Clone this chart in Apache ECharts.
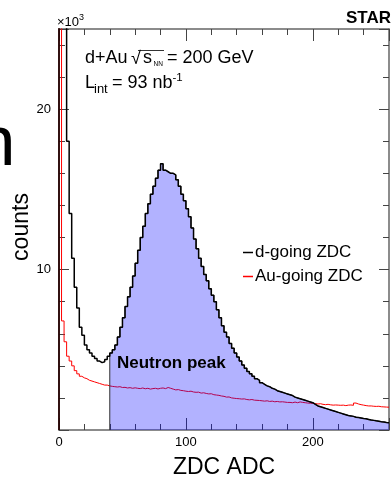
<!DOCTYPE html>
<html>
<head>
<meta charset="UTF-8">
<title>ZDC ADC</title>
<script src="https://cdn.jsdelivr.net/npm/echarts@6/dist/echarts.min.js"></script>
<style>
  * { margin: 0; padding: 0; }
  html, body { width: 392px; height: 478px; background: #fff; }
  #main { width: 392px; height: 478px; }
</style>
</head>
<body>
<div id="main"></div>
<script>
// histogram bins: width 2 ADC counts, starting at 0; values in units of 10^3 counts
var BIN = 2;
var dGoing = [
  60, 60, 40, 18.0, 13.5, 10.7, 8.9, 7.6, 6.4, 5.9,
  5.3, 5.0, 4.8, 4.6, 4.45, 4.3, 4.2, 4.25, 4.4, 4.6,
  4.8, 5.0, 5.3, 5.8, 6.4, 7.0, 7.7, 8.3, 8.9, 9.6,
  10.4, 11.2, 12.0, 12.7, 13.5, 14.1, 14.7, 15.2, 15.7, 16.2,
  16.6, 16.2, 16.1, 16.0, 16.0, 15.9, 15.6, 15.2, 14.7, 14.3,
  13.8, 13.3, 12.6, 11.9, 11.3, 10.7, 10.2, 9.7, 9.3, 8.8,
  8.4, 8.0, 7.5, 7.0, 6.5, 6.1, 5.8, 5.4, 5.1, 4.8,
  4.55, 4.3, 4.05, 3.85, 3.65, 3.5, 3.35, 3.2, 3.1, 2.95,
  2.85, 2.75, 2.7, 2.6, 2.55, 2.45, 2.4, 2.35, 2.3, 2.25,
  2.2, 2.15, 2.05, 2.0, 1.95, 1.9, 1.85, 1.8, 1.75, 1.7,
  1.6, 1.5, 1.45, 1.4, 1.35, 1.3, 1.25, 1.2, 1.15, 1.1,
  1.05, 1.0, 0.95, 0.9, 0.88, 0.85, 0.8, 0.78, 0.75, 0.72,
  0.7, 0.66, 0.62, 0.6, 0.57, 0.55, 0.52, 0.5, 0.47, 0.45
];
var auGoing = [
  60, 6.8, 5.5, 4.6, 4.3, 4.0, 3.7, 3.5, 3.35, 3.25,
  3.2, 3.1, 3.05, 3.0, 2.95, 2.9, 2.85, 2.8, 2.8, 2.75,
  2.72, 2.7, 2.68, 2.7, 2.65, 2.66, 2.62, 2.64, 2.6, 2.63,
  2.6, 2.58, 2.62, 2.57, 2.6, 2.55, 2.58, 2.6, 2.56, 2.6,
  2.62, 2.58, 2.65, 2.6, 2.55, 2.5, 2.52, 2.47, 2.45, 2.42,
  2.4, 2.42, 2.37, 2.35, 2.36, 2.3, 2.32, 2.28, 2.25, 2.26,
  2.2, 2.18, 2.16, 2.12, 2.1, 2.05, 2.06, 2.0, 1.98, 1.96,
  1.95, 1.93, 1.94, 1.9, 1.88, 1.9, 1.86, 1.85, 1.84, 1.82,
  1.8, 1.82, 1.78, 1.8, 1.76, 1.78, 1.75, 1.76, 1.74, 1.72,
  1.72, 1.7, 1.74, 1.7, 1.75, 1.72, 1.7, 1.68, 1.67, 1.66,
  1.65, 1.62, 1.64, 1.6, 1.58, 1.6, 1.57, 1.55, 1.56, 1.55,
  1.54, 1.55, 1.52, 1.55, 1.56, 1.54, 1.68, 1.62, 1.58, 1.55,
  1.52, 1.5, 1.5, 1.48, 1.47, 1.48, 1.45, 1.44, 1.43, 1.42
];
var peakStart = 40;       // neutron peak selection starts here
var xTickLabels = [0, 100, 200];
var yTickLabels = [10, 20];

var FONT = '"Liberation Sans", Arial, Helvetica, sans-serif';

// histogram -> step outline points
function steps(vals, from) {
  var pts = [[from, 0]];
  for (var i = 0; i < vals.length; i++) {
    var x0 = i * BIN;
    if (x0 < from) continue;
    pts.push([x0, vals[i]], [x0 + BIN, vals[i]]);
  }
  return pts;
}

// text placed by baseline
function T(x, base, s, fs, extra) {
  var st = { text: s, fontSize: fs, fontFamily: FONT, fill: '#000', verticalAlign: 'middle', align: 'left' };
  for (var k in extra) st[k] = extra[k];
  return { type: 'text', x: x, y: base - 0.35 * fs, style: st, z: 20 };
}

var tickCol = '#444';
function xAx(pos, step, len, labels, line) {
  return {
    type: 'value', position: pos, min: 0, max: 260, interval: step,
    axisLine: { show: line, onZero: false, lineStyle: { color: '#666', width: 1.5 } },
    axisTick: { show: true, inside: true, length: len, lineStyle: { color: tickCol } },
    axisLabel: {
      show: labels, margin: 6, fontSize: 13, fontFamily: FONT, color: '#000',
      formatter: function (v) { return xTickLabels.indexOf(v) >= 0 ? String(v) : ''; }
    },
    splitLine: { show: false }
  };
}
function yAx(pos, step, len, labels, line) {
  return {
    type: 'value', position: pos, min: 0, max: 25, interval: step,
    axisLine: { show: line, onZero: false, lineStyle: { color: '#666', width: 1.5 } },
    axisTick: { show: true, inside: true, length: len, lineStyle: { color: tickCol } },
    axisLabel: {
      show: labels, margin: 8, fontSize: 13, fontFamily: FONT, color: '#000',
      formatter: function (v) { return yTickLabels.indexOf(v) >= 0 ? String(v) : ''; }
    },
    splitLine: { show: false }
  };
}

var chart = echarts.init(document.getElementById('main'));
chart.setOption({
  animation: false,
  grid: { left: 59, right: 2, top: 29, bottom: 48 },
  xAxis: [
    xAx('bottom', 100, 12, true, true),
    xAx('bottom', 20, 6, false, false),
    xAx('top', 100, 12, false, true),
    xAx('top', 20, 6, false, false)
  ],
  yAxis: [
    yAx('left', 10, 10, true, true),
    yAx('left', 2, 6, false, false),
    yAx('right', 10, 10, false, true),
    yAx('right', 2, 6, false, false)
  ],
  legend: {
    orient: 'vertical', left: 243, top: 244, itemGap: 7, padding: 0,
    icon: 'rect', itemWidth: 10, itemHeight: 1.5,
    textStyle: { fontSize: 17, fontFamily: FONT, color: '#000', padding: [0, 0, 0, -3] },
    data: ['d-going ZDC', 'Au-going ZDC']
  },
  series: [
    {
      name: 'Au-going ZDC', type: 'line', symbol: 'none', z: 2,
      color: '#ff0000', lineStyle: { color: '#ff0000', width: 1 },
      data: steps(auGoing, 0)
    },
    {
      name: 'peak', type: 'line', symbol: 'none', z: 3,
      color: '#333', lineStyle: { color: '#333', width: 1 },
      areaStyle: { color: 'rgba(0,0,255,0.3)', opacity: 1 },
      data: steps(dGoing, peakStart)
    },
    {
      name: 'd-going ZDC', type: 'line', symbol: 'none', z: 4,
      color: '#000', lineStyle: { color: '#000', width: 1.5 },
      data: steps(dGoing, 0)
    }
  ],
  graphic: [
    T(-24, 170, 'n', 71),
    T(57, 27, '×10', 13),
    T(79, 21, '3', 9),
    T(391, 24, 'STAR', 17, { fontWeight: 'bold', align: 'right' }),
    T(85, 64, 'd+Au', 18),
    T(131, 65, '√', 18),
    { type: 'line', shape: { x1: 138, y1: 50.5, x2: 164, y2: 50.5 }, style: { stroke: '#000', lineWidth: 0.8 }, z: 20 },
    T(143, 64, 's', 18),
    T(153.5, 66, 'NN', 6.5),
    T(167, 64, '= 200 GeV', 18),
    T(85, 89, 'L', 18),
    T(94, 94, 'int', 13),
    T(112, 89, '= 93 nb', 18),
    T(172.5, 82, '-1', 11.5),
    T(117, 369, 'Neutron peak', 17, { fontWeight: 'bold' }),
    T(224, 476, 'ZDC ADC', 23, { align: 'center' }),
    { type: 'text', x: 22, y: 227, rotation: Math.PI / 2, z: 20,
      style: { text: 'counts', fontSize: 23, fontFamily: FONT, fill: '#000', align: 'center', verticalAlign: 'middle' } }
  ]
});
</script>
</body>
</html>
